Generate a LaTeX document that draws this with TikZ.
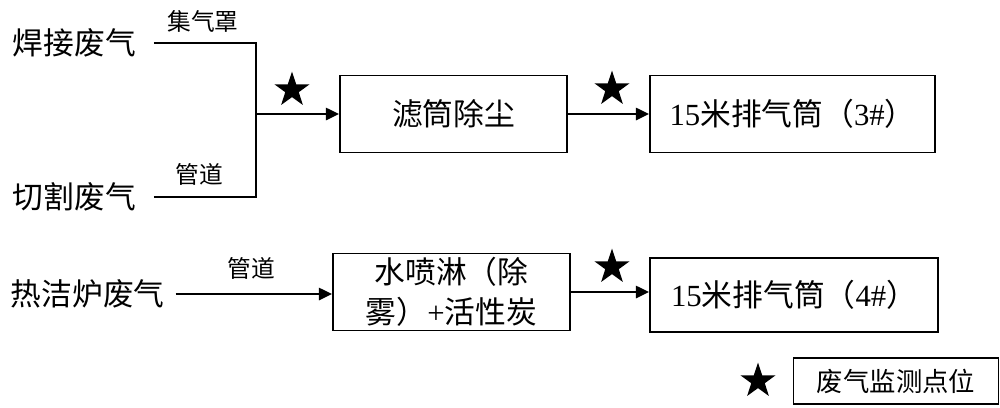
\documentclass[tikz,border=0pt]{standalone}
\usepackage{fontspec}
\setmainfont{Liberation Serif}
\newfontfamily\cjk{Noto Sans CJK SC}
\usetikzlibrary{arrows.meta,positioning,shapes.geometric}

\begin{document}
\begin{tikzpicture}[x=0.02cm, y=-0.02cm, >={Triangle[length=7.5pt,width=7pt]}, line width=1.1pt,
        proc/.style={draw, inner sep=0pt, align=center, font=\fontsize{17.5}{22.5}\selectfont},
        src/.style={anchor=west, inner xsep=0.34cm, inner ysep=0pt, font=\cjk\fontsize{17.5}{21}\selectfont},
        pipe/.style={inner sep=0pt, font=\cjk\fontsize{13.5}{16}\selectfont},
        monitor/.style={star, star points=5, star point ratio=2.6, fill=black, inner sep=0pt, minimum size=0.74cm}]
                \useasboundingbox (0,0) rectangle (1000,407);

                % sources
                \node[src] (weld) at (-5,43) {焊接废气};
                \node[src] (cut) at (-5,197) {切割废气};
                \node[src, inner xsep=0.2cm] (hot) at (0,294) {热洁炉废气};

                % treatment and stacks
                \node[proc, minimum width=4.54cm, minimum height=1.54cm] (filter) at (453.5,114) {{\cjk 滤筒除尘}};
                \node[proc, minimum width=5.7cm, minimum height=1.54cm] (stack3) at (792.5,114) {15{\cjk 米排气筒（}3\#{\cjk ）}};
                \node[proc, minimum width=4.74cm, minimum height=1.54cm] (spray) at (451.5,292) {{\cjk 水喷淋（除}\\{\cjk 雾）}+{\cjk 活性炭}};
                \node[proc, minimum width=5.76cm, minimum height=1.48cm] (stack4) at (794,295) {15{\cjk 米排气筒（}4\#{\cjk ）}};

                % pipe labels
                \node[pipe] (hood) at (203,21) {集气罩};
                \node[pipe] (duct1) at (199,174) {管道};
                \node[pipe] (duct2) at (251,268) {管道};

                % connectors
                \coordinate (join) at (256,114);
                \draw (weld.east) -| (join);
                \draw (cut.east) -| (join);
                \draw[->] (join) -- (filter.west);
                \draw[->] (filter.east) -- (stack3.west);
                \draw[->] (hot.east) -- (hot.east -| spray.west);
                \draw[->] (spray.east) -- (spray.east -| stack4.west);

                % monitoring points
                \node[monitor] (m1) at (292,90) {};
                \node[monitor] (m2) at (612,89) {};
                \node[monitor] (m3) at (612,267) {};

                % legend
                \node[monitor] (key) at (758,381) {};
                \node[proc, minimum width=4.1cm, minimum height=0.92cm, font=\cjk\fontsize{15}{18}\selectfont] (keytext) at (896,381) {废气监测点位};
\end{tikzpicture}
\end{document}
